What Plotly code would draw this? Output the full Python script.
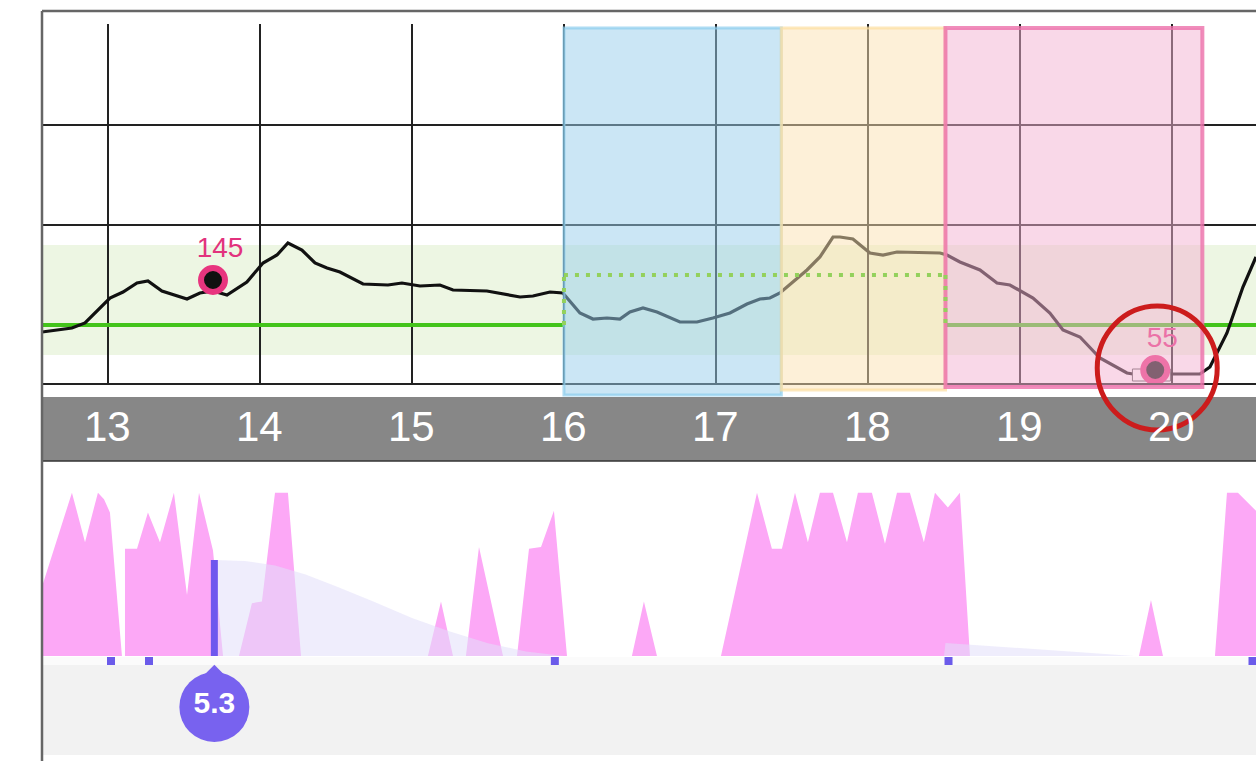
import plotly.graph_objects as go

W, H = 1256, 761

# ---------------- data ----------------
hour_ticks = [13, 14, 15, 16, 17, 18, 19, 20]
hour_labels = ["13", "14", "15", "16", "17", "18", "19", "20"]
view_start, view_end = 12.566, 20.553

glucose_time = [12.566, 12.763, 12.849, 13.013, 13.099, 13.191, 13.263, 13.355, 13.520, 13.605,
                13.691, 13.783, 13.914, 14.020, 14.112, 14.184, 14.276, 14.362, 14.441, 14.526,
                14.678, 14.842, 14.934, 15.053, 15.184, 15.270, 15.493, 15.599, 15.711, 15.796,
                15.908, 15.993, 16.105, 16.191, 16.283, 16.368, 16.434, 16.520, 16.612, 16.763,
                16.875, 16.980, 17.092, 17.204, 17.289, 17.355, 17.421, 17.599, 17.684, 17.770,
                17.816, 17.901, 18.013, 18.099, 18.191, 18.474, 18.520, 18.605, 18.737, 18.849,
                18.934, 19.086, 19.197, 19.283, 19.395, 19.526, 19.612, 19.704, 19.743, 20.184,
                20.250, 20.362, 20.467, 20.553]
glucose_value = [93, 97, 102, 127, 133, 142, 144, 134, 126, 132,
                 134, 130, 143, 162, 170, 182, 175, 162, 157, 153,
                 141, 140, 142, 139, 140, 135, 134, 131, 128, 129,
                 133, 132, 112, 106, 107, 106, 113, 117, 113, 103,
                 103, 107, 112, 121, 126, 127, 132, 155, 168, 188,
                 188, 186, 172, 170, 173, 172, 170, 163, 155, 142,
                 140, 127, 112, 95, 88, 67, 60, 52, 51, 51,
                 58, 92, 138, 168]
assert len(glucose_time) == len(glucose_value)

target_low, target_high = 70, 180
target_base = 100
target_temp = 150
temp_target_start, temp_target_end = 16.0, 18.51

overlay_start = [16.0, 17.43, 18.51]
overlay_end = [17.43, 18.51, 20.2]

reading_time = [13.691, 19.89]
reading_value = [145, 55]

activity_time = [12.566, 12.763, 12.849, 12.934, 12.974, 13.013, 13.092, 13.112, 13.112, 13.191,
                 13.263, 13.342, 13.434, 13.520, 13.599, 13.691, 13.757,
                 13.862, 13.947, 14.013, 14.099, 14.184, 14.270,
                 15.105, 15.191, 15.270,
                 15.355, 15.441, 15.599,
                 15.691, 15.770, 15.849, 15.934, 16.020,
                 16.447, 16.526, 16.612,
                 17.033, 17.270, 17.368, 17.434, 17.520, 17.605, 17.684, 17.770, 17.862, 17.934,
                 18.026, 18.112, 18.191, 18.276, 18.368, 18.441, 18.526, 18.605, 18.671,
                 19.783, 19.862, 19.941,
                 20.283, 20.362, 20.434, 20.553]
activity_value = [42, 99, 69, 99, 95, 87, 0, 0, 65, 65,
                  87, 69, 99, 37, 99, 64, 0,
                  0, 32, 33, 99, 99, 0,
                  0, 33, 0,
                  0, 66, 0,
                  0, 65, 66, 88, 0,
                  0, 33, 0,
                  0, 99, 65, 65, 99, 69, 99, 99, 69, 99,
                  99, 68, 99, 99, 69, 99, 90, 99, 0,
                  0, 34, 0,
                  0, 99, 99, 88]
assert len(activity_time) == len(activity_value)

iob_time = [13.70, 13.90, 14.10, 14.30, 14.50, 14.75, 15.00, 15.25, 15.50, 15.75, 16.00,
            18.50, 18.51, 18.80, 19.10, 19.40, 19.75]
iob_value = [5.3, 5.25, 5.0, 4.5, 3.85, 3.0, 2.1, 1.35, 0.7, 0.25, 0.0,
             0.0, 0.72, 0.55, 0.35, 0.17, 0.0]

bolus_time = [13.70]
bolus_units = [5.3]

micro_time = [13.02, 13.27, 15.94, 18.53, 20.53]

FONT = "Liberation Sans, Arial, sans-serif"


def py(px):
    """pixel row -> paper fraction"""
    return 1 - px / H


def px_x(px):
    return px / W


# axis geometry (pixels)
TOP_Y0, TOP_Y1 = 383, 24          # glucose panel
G_LO, G_HI = 42, 401
ACT_BASE = 656                    # activity baseline row
BOT_Y0, BOT_Y1 = 665, 462
ACT_K = 1.65                      # px per activity unit
BOL_K = 96 / 5.3                  # px per insulin unit
X0_PX = 42

fig = go.Figure()

# ---------------- top panel ----------------
fig.add_trace(go.Scatter(
    x=[view_start, temp_target_start], y=[target_base, target_base],
    mode="lines", line=dict(color="#43c41b", width=4), xaxis="x", yaxis="y",
    hoverinfo="skip", showlegend=False))
fig.add_trace(go.Scatter(
    x=[temp_target_end, view_end], y=[target_base, target_base],
    mode="lines", line=dict(color="#43c41b", width=4), xaxis="x", yaxis="y",
    hoverinfo="skip", showlegend=False))

# glucose line
fig.add_trace(go.Scatter(
    x=glucose_time, y=glucose_value, mode="lines",
    line=dict(color="#111111", width=3.2), xaxis="x", yaxis="y", showlegend=False))

# small white bar behind the low reading
lt, lv = reading_time[1], reading_value[1]
fig.add_trace(go.Scatter(
    x=[lt - 0.15, lt + 0.10, lt + 0.10, lt - 0.15, lt - 0.15],
    y=[lv + 1, lv + 1, lv - 11, lv - 11, lv + 1],
    mode="lines", fill="toself", fillcolor="white",
    line=dict(color="#555555", width=1), xaxis="x", yaxis="y",
    hoverinfo="skip", showlegend=False))

# highlighted readings
fig.add_trace(go.Scatter(
    x=reading_time, y=reading_value, mode="markers",
    marker=dict(size=24, color="#111111", opacity=1, line=dict(color="#e8357f", width=6)),
    xaxis="x", yaxis="y", showlegend=False))
fig.add_trace(go.Scatter(
    x=[t + 7 / 152 for t in reading_time], y=[v + 30 for v in reading_value],
    mode="text", text=[str(v) for v in reading_value],
    textposition="middle center",
    textfont=dict(family=FONT, size=28, color="#e2327d"),
    xaxis="x", yaxis="y", hoverinfo="skip", showlegend=False))

# ---------------- bottom panel ----------------
fig.add_trace(go.Scatter(
    x=activity_time, y=activity_value, mode="lines", fill="tozeroy",
    fillcolor="#fca8f6", line=dict(width=0, color="#fca8f6"),
    xaxis="x2", yaxis="y2", showlegend=False))
fig.add_trace(go.Scatter(
    x=iob_time, y=iob_value, mode="lines", fill="tozeroy",
    fillcolor="rgba(226,222,249,0.55)", line=dict(width=0, color="rgba(0,0,0,0)"),
    xaxis="x2", yaxis="y4", showlegend=False))
fig.add_trace(go.Bar(
    x=bolus_time, y=bolus_units, width=[0.046],
    marker=dict(color="#6f57ee", opacity=1, line=dict(width=0)),
    xaxis="x2", yaxis="y5", showlegend=False))
fig.add_trace(go.Scatter(
    x=micro_time, y=[-5 / BOL_K] * len(micro_time), mode="markers",
    marker=dict(symbol="square", size=8, color="#6b5bea", opacity=1),
    xaxis="x2", yaxis="y5", cliponaxis=False, showlegend=False))

# bolus droplet
fig.add_trace(go.Scatter(
    x=bolus_time * 2, y=[48, 70], mode="markers",
    marker=dict(symbol=["circle", "diamond"], size=[70, 31], color="#7862ef",
                opacity=1, line=dict(width=0)),
    xaxis="x3", yaxis="y3", cliponaxis=False, hoverinfo="skip", showlegend=False))
fig.add_trace(go.Scatter(
    x=bolus_time, y=[50], mode="text", text=[f"{u:.1f}" for u in bolus_units],
    textposition="middle center",
    textfont=dict(family=FONT, size=30, color="white", weight="bold"),
    xaxis="x3", yaxis="y3", cliponaxis=False, hoverinfo="skip", showlegend=False))

# ---------------- shapes ----------------
shapes = []
shapes.append(dict(type="rect", xref="x domain", yref="y", x0=0, x1=1,
                   y0=target_low, y1=target_high, fillcolor="#edf6e3",
                   line=dict(width=0), layer="below"))
# hour band
shapes.append(dict(type="rect", xref="paper", yref="paper", x0=px_x(X0_PX), x1=1,
                   y0=py(461), y1=py(397), fillcolor="#878787", line=dict(width=0), layer="below"))
shapes.append(dict(type="line", xref="paper", yref="paper", x0=px_x(X0_PX), x1=1,
                   y0=py(461), y1=py(461), line=dict(color="#333333", width=1.5)))
# lower grey area
shapes.append(dict(type="rect", xref="paper", yref="paper", x0=px_x(X0_PX), x1=1,
                   y0=py(755), y1=py(665), fillcolor="#f2f2f2", line=dict(width=0), layer="below"))
shapes.append(dict(type="rect", xref="paper", yref="paper", x0=px_x(X0_PX), x1=1,
                   y0=py(665), y1=py(657), fillcolor="#fbfbfb", line=dict(width=0), layer="below"))
# frame
shapes.append(dict(type="line", xref="paper", yref="paper", x0=px_x(X0_PX), x1=1,
                   y0=py(11), y1=py(11), line=dict(color="#666666", width=2.5)))
shapes.append(dict(type="line", xref="paper", yref="paper", x0=px_x(X0_PX), x1=px_x(X0_PX),
                   y0=0, y1=py(11), line=dict(color="#666666", width=2.5)))

# period overlays
overlay_fill = ["rgba(151,205,235,0.5)", "rgba(251,225,177,0.5)", "rgba(243,177,209,0.5)"]
overlay_line = ["rgba(140,205,238,0.7)", "rgba(252,222,160,0.7)", "rgba(236,112,170,0.8)"]
overlay_lw = [3, 3, 4]
overlay_bottom = [395, 390, 387]
for s, e, fc, lc, lw, b in zip(overlay_start, overlay_end, overlay_fill, overlay_line,
                               overlay_lw, overlay_bottom):
    shapes.append(dict(type="rect", xref="x", yref="paper", x0=s, x1=e,
                       y0=py(b), y1=py(28), fillcolor=fc,
                       line=dict(color=lc, width=lw), layer="above"))

# temporary target (dotted), drawn over the overlays
tt_x = [temp_target_start, temp_target_start, temp_target_end, temp_target_end]
tt_y = [target_base, target_temp, target_temp, target_base]
for i in range(3):
    shapes.append(dict(type="line", xref="x", yref="y", x0=tt_x[i], x1=tt_x[i + 1],
                       y0=tt_y[i], y1=tt_y[i + 1],
                       line=dict(color="#93d15c", width=4, dash="4px,7px"), layer="above"))


# red highlight circle around the low
def to_px(t, v):
    xp = X0_PX + (t - view_start) / (view_end - view_start) * (W - X0_PX)
    yp = TOP_Y0 - (v - G_LO) / (G_HI - G_LO) * (TOP_Y0 - TOP_Y1)
    return xp, yp


cx, cy = to_px(lt, lv)
cx += 2
cy -= 2
shapes.append(dict(type="circle", xref="paper", yref="paper",
                   x0=(cx - 60) / W, x1=(cx + 60) / W, y0=py(cy + 62), y1=py(cy - 62),
                   line=dict(color="#cc1c1c", width=5), fillcolor="rgba(0,0,0,0)", layer="above"))

annotations = []
for t, lab in zip(hour_ticks, hour_labels):
    annotations.append(dict(x=t, xref="x", y=py(426), yref="paper", text=lab,
                            showarrow=False, xanchor="center", yanchor="middle",
                            font=dict(family=FONT, size=42, color="white")))

xdom = [X0_PX / W, 1]
bol_range = [-(BOT_Y0 - ACT_BASE) / BOL_K, (ACT_BASE - BOT_Y1) / BOL_K]
fig.update_layout(
    width=W, height=H, margin=dict(l=0, r=0, t=0, b=0),
    paper_bgcolor="white", plot_bgcolor="rgba(0,0,0,0)",
    showlegend=False, barmode="overlay",
    xaxis=dict(domain=xdom, range=[view_start, view_end], tickvals=hour_ticks,
               showticklabels=False, ticks="", showgrid=True, gridcolor="#222222",
               gridwidth=1.6, showline=True, linecolor="#222222", linewidth=1.6,
               zeroline=False, anchor="y", fixedrange=True),
    yaxis=dict(domain=[py(TOP_Y0), py(TOP_Y1)], range=[G_LO, G_HI], tickvals=[200, 300, 400],
               showticklabels=False, ticks="", showgrid=True, gridcolor="#222222",
               gridwidth=1.6, zeroline=False, showline=False, anchor="x"),
    xaxis2=dict(domain=xdom, range=[view_start, view_end], visible=False, anchor="y2"),
    yaxis2=dict(domain=[py(BOT_Y0), py(BOT_Y1)],
                range=[-(BOT_Y0 - ACT_BASE) / ACT_K, (ACT_BASE - BOT_Y1) / ACT_K],
                visible=False, anchor="x2"),
    yaxis4=dict(overlaying="y2", range=bol_range, visible=False, anchor="x2"),
    yaxis5=dict(overlaying="y2", range=bol_range, visible=False, anchor="x2"),
    xaxis3=dict(domain=xdom, range=[view_start, view_end], visible=False, anchor="y3"),
    yaxis3=dict(domain=[py(755), py(665)], range=[0, 90], visible=False, anchor="x3"),
    shapes=shapes, annotations=annotations,
    font=dict(family=FONT),
)

fig.write_html("out.html", config={"displayModeBar": False},
               post_script="document.body.style.margin='0';")
